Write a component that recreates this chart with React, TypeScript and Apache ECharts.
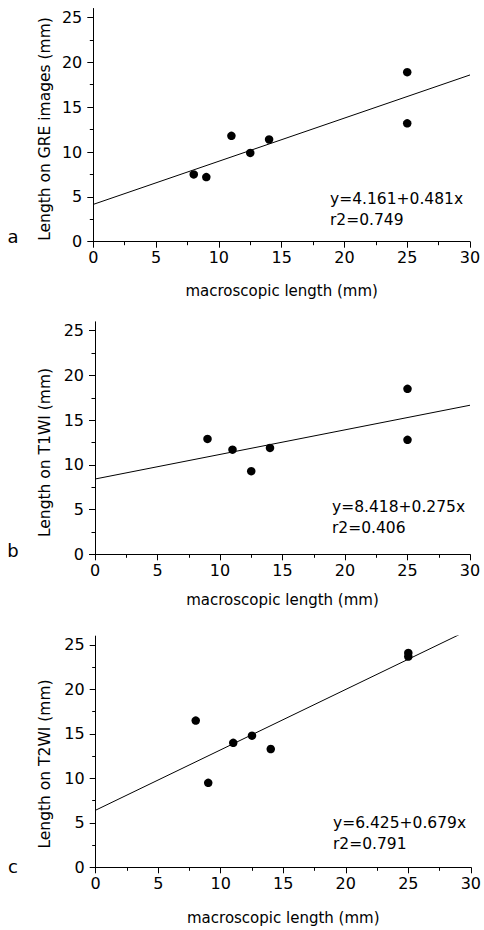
import React, { useEffect, useRef } from "react";
import * as echarts from "echarts";

const panelLetters = ["a", "b", "c"];
const yTitles = ["Length on GRE images (mm)", "Length on T1WI (mm)", "Length on T2WI (mm)"];
const xTitle = "macroscopic length (mm)";

const greX = [8, 9, 11, 12.5, 14, 25, 25];
const greY = [7.5, 7.2, 11.8, 9.9, 11.4, 18.9, 13.2];
const t1X = [9, 11, 12.5, 14, 25, 25];
const t1Y = [12.9, 11.7, 9.3, 11.9, 18.5, 12.8];
const t2X = [8, 9, 11, 12.5, 14, 25, 25];
const t2Y = [16.5, 9.5, 14.0, 14.8, 13.3, 24.1, 23.7];

const intercepts = [4.161, 8.418, 6.425];
const slopes = [0.481, 0.275, 0.679];
const r2 = ["0.749", "0.406", "0.791"];

const xMajorTicks = [0, 5, 10, 15, 20, 25, 30];
const xMinorTicks = [2.5, 7.5, 12.5, 17.5, 22.5, 27.5];
const yMajorTicks = [0, 5, 10, 15, 20, 25];
const yMinorTicks = [2.5, 7.5, 12.5, 17.5, 22.5];
const xMax = 30;
const yMax = 26;

const FONT = "DejaVu Sans";

// layout (pixels)
const grids = [
  { left: 93.3, right: 14, top: 8.5, height: 233.2 },
  { left: 95, right: 14, top: 321.8, height: 232.5 },
  { left: 95.7, right: 11.3, top: 636.1, height: 231.2 },
];
const xNameGaps = [42, 38, 43];
const yTitlePos = [
  { x: 45, y: 129 },
  { x: 45, y: 452.5 },
  { x: 45, y: 764 },
];
const letterPos = [
  { x: 13, y: 236.5 },
  { x: 13, y: 550 },
  { x: 13, y: 866 },
];
const eqPos = [
  { x: 330, y: 199 },
  { x: 332, y: 507 },
  { x: 333, y: 823 },
];

export default function App() {
  const ref = useRef<HTMLDivElement>(null);
  useEffect(() => {
    if (!ref.current) return;
    const chart = echarts.init(ref.current, undefined, { renderer: "svg" });
    const xs = [greX, t1X, t2X];
    const ys = [greY, t1Y, t2Y];
    const n = grids.length;

    const labelStyle = { fontFamily: FONT, fontSize: 16, color: "#000" };

    const xAxes: any[] = [];
    const yAxes: any[] = [];
    // primary axes: line, major ticks, labels
    grids.forEach((_, i) => {
      xAxes.push({
        type: "value",
        gridIndex: i,
        min: 0,
        max: xMax,
        name: xTitle,
        nameLocation: "middle",
        nameGap: xNameGaps[i],
        nameTextStyle: { fontFamily: FONT, fontSize: 15, color: "#000" },
        axisLine: { show: true, lineStyle: { color: "#000", width: 1 } },
        splitLine: { show: false },
        axisTick: { show: true, length: 6, customValues: xMajorTicks, lineStyle: { color: "#000" } },
        axisLabel: { ...labelStyle, customValues: xMajorTicks, margin: 8 },
      });
      yAxes.push({
        type: "value",
        gridIndex: i,
        min: 0,
        max: yMax,
        axisLine: { show: true, lineStyle: { color: "#000", width: 1 } },
        splitLine: { show: false },
        axisTick: { show: true, length: 6, customValues: yMajorTicks, lineStyle: { color: "#000" } },
        axisLabel: { ...labelStyle, customValues: yMajorTicks, margin: 11 },
      });
    });
    // secondary axes: minor ticks only
    grids.forEach((_, i) => {
      xAxes.push({
        type: "value",
        gridIndex: i,
        min: 0,
        max: xMax,
        position: "bottom",
        axisLine: { show: false },
        splitLine: { show: false },
        axisTick: { show: true, length: 3.5, customValues: xMinorTicks, lineStyle: { color: "#000" } },
        axisLabel: { show: false },
      });
      yAxes.push({
        type: "value",
        gridIndex: i,
        min: 0,
        max: yMax,
        position: "left",
        axisLine: { show: false },
        splitLine: { show: false },
        axisTick: { show: true, length: 3.5, customValues: yMinorTicks, lineStyle: { color: "#000" } },
        axisLabel: { show: false },
      });
    });

    const series: any[] = [];
    for (let i = 0; i < n; i++) {
      series.push({
        type: "scatter",
        xAxisIndex: i,
        yAxisIndex: i,
        symbol: "circle",
        symbolSize: 8.5,
        itemStyle: { color: "#000", opacity: 1 },
        data: xs[i].map((x, k) => [x, ys[i][k]]),
        z: 3,
      });
      series.push({
        type: "line",
        xAxisIndex: i,
        yAxisIndex: i,
        showSymbol: false,
        symbol: "none",
        clip: true,
        lineStyle: { color: "#000", width: 1 },
        data: [
          [0, intercepts[i]],
          [xMax, intercepts[i] + slopes[i] * xMax],
        ],
        z: 2,
      });
    }

    const graphic: any[] = [];
    for (let i = 0; i < n; i++) {
      graphic.push({
        type: "text",
        x: yTitlePos[i].x,
        y: yTitlePos[i].y,
        rotation: Math.PI / 2,
        style: {
          text: yTitles[i],
          fontFamily: FONT,
          fontSize: 15.5,
          fill: "#000",
          align: "center",
          verticalAlign: "middle",
        },
      });
      graphic.push({
        type: "text",
        x: letterPos[i].x,
        y: letterPos[i].y,
        style: {
          text: panelLetters[i],
          fontFamily: FONT,
          fontSize: 18,
          fill: "#000",
          align: "center",
          verticalAlign: "middle",
        },
      });
      graphic.push({
        type: "text",
        x: eqPos[i].x,
        y: eqPos[i].y,
        style: {
          text: `y=${intercepts[i].toFixed(3)}+${slopes[i].toFixed(3)}x`,
          fontFamily: FONT,
          fontSize: 15.5,
          fill: "#000",
          align: "left",
          verticalAlign: "middle",
        },
      });
      graphic.push({
        type: "text",
        x: eqPos[i].x,
        y: eqPos[i].y + 21,
        style: {
          text: `r2=${r2[i]}`,
          fontFamily: FONT,
          fontSize: 15.5,
          fill: "#000",
          align: "left",
          verticalAlign: "middle",
        },
      });
    }

    chart.setOption({
      animation: false,
      backgroundColor: "#fff",
      grid: grids.map((g) => ({ ...g, containLabel: false })),
      xAxis: xAxes,
      yAxis: yAxes,
      series,
      graphic,
    });
    return () => chart.dispose();
  }, []);

  return (
    <div
      ref={ref}
      style={{ position: "fixed", left: 0, top: 0, width: 484, height: 930, background: "#fff" }}
    />
  );
}
